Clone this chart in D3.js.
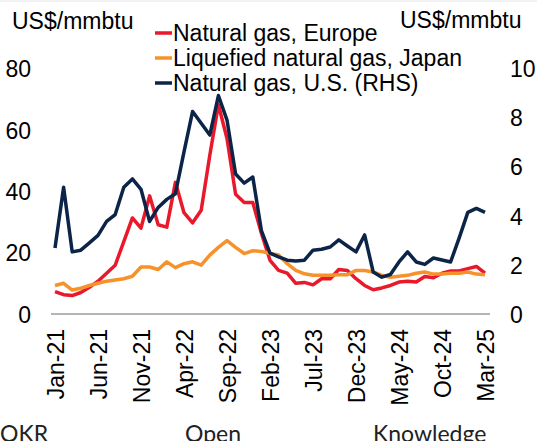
<!DOCTYPE html>
<html lang="en">
<meta charset="UTF-8">
<script src="https://d3js.org/d3.v7.min.js"></script>
<style>
  body { margin: 0; background: #fff; }
  svg { display: block; }
  svg text { font-family: "Liberation Sans", Arial, sans-serif; fill: #000; }
</style>
<body>
<div id="chart"></div>
<script>
// monthly, Jan-21 .. Mar-25
var months = d3.timeMonths(new Date(2021, 0, 1), new Date(2025, 3, 1));
var tickLabels = ["Jan-21", "Jun-21", "Nov-21", "Apr-22", "Sep-22", "Feb-23", "Jul-23", "Dec-23", "May-24", "Oct-24", "Mar-25"];
var leftTicks = [0, 20, 40, 60, 80];
var rightTicks = [0, 2, 4, 6, 8, 10];

// US$/mmbtu
var europe = [7.3, 6.3, 6.0, 7.0, 8.7, 10.7, 13.3, 15.9, 23.6, 31.3, 28.0, 38.5, 29.1, 28.3, 42.9, 33.0, 29.7, 33.8, 51.7, 68.2,
  57.2, 39.0, 36.3, 36.3, 26.3, 17.5, 14.2, 13.3, 10.0, 10.3, 9.5, 11.5, 11.5, 14.5, 14.2, 11.5, 9.3, 7.9, 8.5, 9.3,
  10.4, 10.7, 10.4, 12.2, 11.8, 13.3, 14.0, 14.0, 14.8, 15.5, 13.3];
var japan = [9.3, 10.0, 7.8, 8.4, 9.3, 10.0, 10.7, 11.1, 11.5, 12.3, 15.3, 15.3, 14.5, 17.0, 15.1, 16.4, 17.0, 15.9, 19.2, 21.7,
  23.9, 21.7, 19.7, 20.6, 20.4, 19.7, 19.2, 16.4, 14.2, 13.1, 12.6, 12.6, 12.6, 12.8, 12.8, 14.2, 14.2, 13.7, 12.6, 12.0,
  12.3, 12.6, 13.3, 13.7, 13.0, 13.0, 13.3, 13.3, 13.7, 13.0, 12.8];
// RHS
var us = [2.69, 5.16, 2.53, 2.6, 2.9, 3.2, 3.77, 4.05, 5.16, 5.5, 5.08, 3.77, 4.34, 4.67, 4.9, 6.6, 8.25, 7.77, 7.29, 8.9,
  7.9, 5.7, 5.33, 5.58, 3.4, 2.48, 2.33, 2.19, 2.16, 2.19, 2.6, 2.64, 2.73, 3.02, 2.77, 2.53, 3.22, 1.71, 1.5, 1.61,
  2.12, 2.53, 2.12, 2.02, 2.28, 2.2, 2.12, 3.1, 4.14, 4.3, 4.14];

var series = [
  { name: "Natural gas, Europe", values: europe, axis: "left", color: "#e9192b" },
  { name: "Liquefied natural gas, Japan", values: japan, axis: "left", color: "#f7922a" },
  { name: "Natural gas, U.S. (RHS)", values: us, axis: "right", color: "#0b2447" }
];

var W = 537, H = 441;
var svg = d3.select("#chart").append("svg")
  .attr("width", W).attr("height", H);

var fmt = d3.timeFormat("%b-%y");
var x = d3.scalePoint().domain(months.map(fmt)).range([55, 485]);
var yL = d3.scaleLinear().domain([0, 80]).range([314, 68.5]);
var yR = d3.scaleLinear().domain([0, 10]).range([314, 68.5]);

// faint top border
svg.append("line").attr("x1", 0).attr("x2", W).attr("y1", 1).attr("y2", 1)
  .attr("stroke", "#e6e6e6").attr("stroke-width", 1);

// unit labels
svg.append("text").attr("x", 12).attr("y", 29).style("font-size", "23px").text("US$/mmbtu");
svg.append("text").attr("x", 400).attr("y", 28).style("font-size", "23px").text("US$/mmbtu");

// left axis
var gl = svg.append("g").attr("transform", "translate(31,0)")
  .call(d3.axisLeft(yL).tickValues(leftTicks).tickSize(0).tickPadding(0));
gl.select(".domain").remove();
gl.selectAll("text").style("font-size", "23px").attr("dy", "0.36em");

// right axis
var gr = svg.append("g").attr("transform", "translate(510,0)")
  .call(d3.axisRight(yR).tickValues(rightTicks).tickSize(0).tickPadding(0));
gr.select(".domain").remove();
gr.selectAll("text").style("font-size", "23px").attr("dy", "0.36em");

// x axis
var gx = svg.append("g").attr("transform", "translate(0,314)")
  .call(d3.axisBottom(x).tickValues(tickLabels).tickSize(0).tickSizeOuter(0));
gx.select(".domain").remove();
gx.selectAll("text")
  .style("font-size", "23px")
  .attr("text-anchor", "end")
  .attr("transform", "rotate(-90)")
  .attr("x", -15).attr("y", 0).attr("dy", "0.36em");

svg.append("line").attr("x1", 51).attr("x2", 490).attr("y1", 314).attr("y2", 314)
  .attr("stroke", "#9b9b9b").attr("stroke-width", 1.5);

// lines
var line = function(s) {
  var y = s.axis === "left" ? yL : yR;
  return d3.line()
    .x(function(d, i) { return x(fmt(months[i])); })
    .y(function(d) { return y(d); })(s.values);
};
svg.selectAll(".series").data(series).enter().append("path")
  .attr("class", "series")
  .attr("d", line)
  .attr("fill", "none")
  .attr("stroke", function(d) { return d.color; })
  .attr("stroke-width", 3.5)
  .attr("stroke-linejoin", "round");

// legend
var lg = svg.append("g");
series.forEach(function(s, i) {
  var yy = 33 + i * 25;
  lg.append("line").attr("x1", 155).attr("x2", 172).attr("y1", yy).attr("y2", yy)
    .attr("stroke", s.color).attr("stroke-width", 3.5);
  lg.append("text").attr("x", 173).attr("y", yy + 8).style("font-size", "23px").text(s.name);
});

// footer watermark (slightly cut at the bottom edge, as in the source)
[["OKR", 0], ["Open", 185], ["Knowledge", 373]].forEach(function(t) {
  svg.append("text").attr("x", t[1]).attr("y", 442)
    .style("font-family", "Lato, sans-serif").style("font-size", "23px").style("fill", "#222")
    .text(t[0]);
});
</script>
</body>
</html>
